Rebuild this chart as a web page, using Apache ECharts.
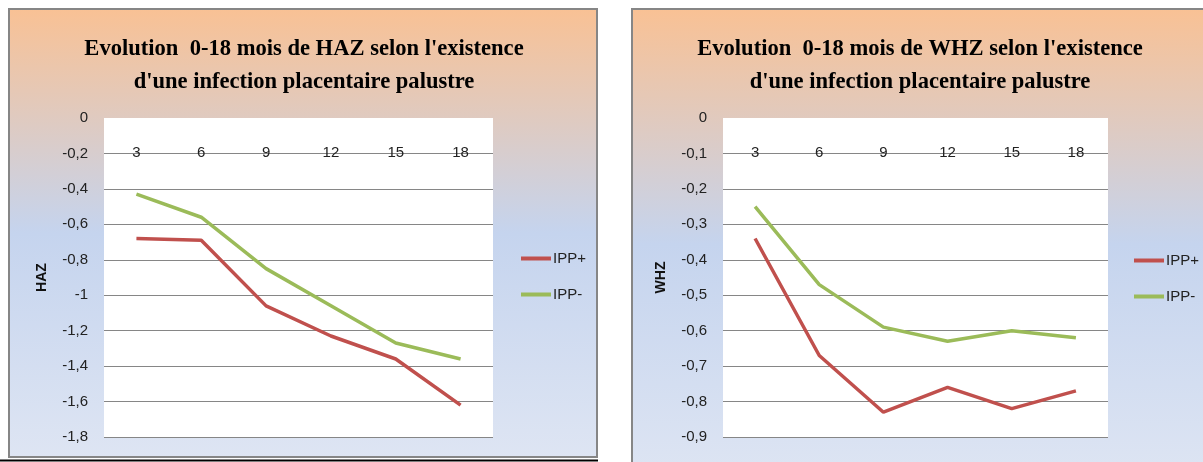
<!DOCTYPE html>
<html>
<head>
<meta charset="utf-8">
<script src="https://cdn.jsdelivr.net/npm/echarts@6/dist/echarts.min.js"></script>
<style>
  html, body { margin: 0; padding: 0; background: #fff; }
  #chart { width: 1203px; height: 462px; }
</style>
</head>
<body>
<div id="chart"></div>
<script>
var months = ['3', '6', '9', '12', '15', '18'];
var hazPlus = [-0.68, -0.69, -1.06, -1.23, -1.36, -1.62];
var hazMinus = [-0.43, -0.56, -0.85, -1.06, -1.27, -1.36];
var whzPlus = [-0.34, -0.67, -0.83, -0.76, -0.82, -0.77];
var whzMinus = [-0.25, -0.47, -0.59, -0.63, -0.60, -0.62];

var titleHaz = "Evolution  0-18 mois de HAZ selon l'existence\nd'une infection placentaire palustre";
var titleWhz = "Evolution  0-18 mois de WHZ selon l'existence\nd'une infection placentaire palustre";

var red = '#C0504D';
var green = '#9BBB59';

var chartElement = document.getElementById('chart');
var mychart = echarts.init(chartElement);

function panelFill() {
    return new echarts.graphic.LinearGradient(0, 0, 0, 1, [
        { offset: 0, color: '#F9C194' },
        { offset: 0.5, color: '#C5D4EE' },
        { offset: 1, color: '#DEE5F3' }
    ]);
}

// virgule comme séparateur décimal
function frNumber(v) {
    var r = Math.round(v * 10) / 10;
    return String(r).replace('.', ',');
}

// titre serif un peu étroit, comme dans Excel
function titleText(text, cx) {
    return {
        type: 'text',
        x: cx,
        y: 32,
        scaleX: 0.94,
        style: {
            text: text,
            align: 'center',
            verticalAlign: 'top',
            fontFamily: 'Liberation Serif',
            fontWeight: 'bold',
            fontSize: 24,
            lineHeight: 33,
            fill: '#000'
        }
    };
}

function xAxisFor(gridIndex) {
    return {
        type: 'category',
        gridIndex: gridIndex,
        position: 'top',
        data: months,
        axisLine: { show: false },
        axisTick: { show: false },
        axisLabel: {
            inside: true,
            margin: 27,
            fontFamily: 'Liberation Sans',
            fontSize: 15,
            color: '#222'
        }
    };
}

function yAxisFor(gridIndex, name, min, interval) {
    return {
        type: 'value',
        gridIndex: gridIndex,
        name: name,
        nameLocation: 'middle',
        nameRotate: 90,
        nameGap: 55,
        nameTextStyle: {
            fontFamily: 'Liberation Sans',
            fontWeight: 'bold',
            fontSize: 14,
            color: '#111'
        },
        min: min,
        max: 0,
        interval: interval,
        axisLine: { show: false },
        axisTick: { show: false },
        axisLabel: {
            margin: 16,
            fontFamily: 'Liberation Sans',
            fontSize: 15,
            color: '#222',
            formatter: frNumber
        },
        splitLine: {
            showMaxLine: false,
            lineStyle: { color: '#868686', width: 1 }
        }
    };
}

function lineSeries(name, data, color, idx) {
    return {
        name: name,
        type: 'line',
        xAxisIndex: idx,
        yAxisIndex: idx,
        data: data,
        showSymbol: false,
        symbol: 'none',
        lineStyle: { color: color, width: 3.5 },
        itemStyle: { color: color }
    };
}

var legendBase = {
    orient: 'vertical',
    icon: 'rect',
    itemWidth: 30,
    itemHeight: 4,
    itemGap: 21,
    textStyle: {
        fontFamily: 'Liberation Sans',
        fontSize: 15,
        color: '#222',
        padding: [0, 0, 0, -3]
    }
};

var option = {
    animation: false,
    graphic: [
        {
            type: 'rect',
            z: -10,
            shape: { x: 9, y: 9, width: 588, height: 448 },
            style: { fill: panelFill(), stroke: '#868686', lineWidth: 2 }
        },
        {
            type: 'rect',
            z: -10,
            shape: { x: 632, y: 9, width: 600, height: 470 },
            style: { fill: panelFill(), stroke: '#868686', lineWidth: 2 }
        },
        {
            type: 'line',
            z: -5,
            shape: { x1: 0, y1: 460.5, x2: 598, y2: 460.5 },
            style: { stroke: '#000', lineWidth: 2 }
        },
        titleText(titleHaz, 304),
        titleText(titleWhz, 920)
    ],
    legend: [
        Object.assign({}, legendBase, { left: 516, top: 246, data: ['IPP+', 'IPP-'] }),
        Object.assign({}, legendBase, { left: 1129, top: 248, data: ['IPP+ ', 'IPP- '] })
    ],
    grid: [
        { left: 104, top: 118, width: 389, height: 319, show: true, backgroundColor: '#fff', borderWidth: 0 },
        { left: 723, top: 118, width: 385, height: 319, show: true, backgroundColor: '#fff', borderWidth: 0 }
    ],
    xAxis: [xAxisFor(0), xAxisFor(1)],
    yAxis: [
        yAxisFor(0, 'HAZ', -1.8, 0.2),
        yAxisFor(1, 'WHZ', -0.9, 0.1)
    ],
    series: [
        lineSeries('IPP+', hazPlus, red, 0),
        lineSeries('IPP-', hazMinus, green, 0),
        lineSeries('IPP+ ', whzPlus, red, 1),
        lineSeries('IPP- ', whzMinus, green, 1)
    ]
};
mychart.setOption(option);
</script>
</body>
</html>
